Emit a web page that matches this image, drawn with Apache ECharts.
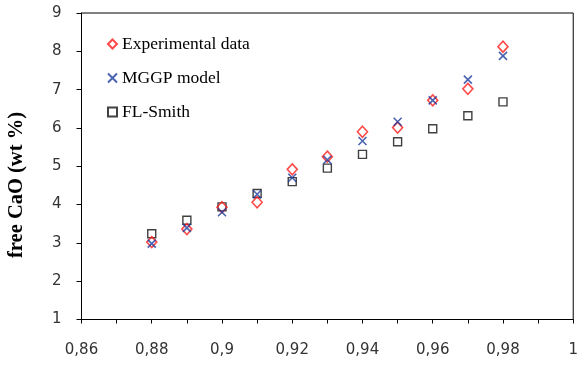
<!DOCTYPE html>
<html>
<head>
<meta charset="utf-8">
<script src="https://cdn.jsdelivr.net/npm/echarts@6/dist/echarts.min.js"></script>
<style>html,body{margin:0;padding:0;background:#fff}#c{width:581px;height:368px}</style>
</head>
<body>
<div id="c"></div>
<script>
var xValues = [0.88, 0.89, 0.90, 0.91, 0.92, 0.93, 0.94, 0.95, 0.96, 0.97, 0.98];
var experimental = [3.02, 3.36, 3.93, 4.06, 4.92, 5.25, 5.90, 6.01, 6.72, 7.02, 8.12];
var mggp = [2.98, 3.39, 3.80, 4.27, 4.70, 5.17, 5.66, 6.16, 6.72, 7.26, 7.88];
var flSmith = [3.24, 3.59, 3.94, 4.29, 4.60, 4.95, 5.31, 5.64, 5.98, 6.32, 6.68];
var seriesNames = ['Experimental data', 'MGGP model', 'FL-Smith'];
var yTitle = 'free CaO (wt %)';

function pairs(ys) { return xValues.map(function (x, i) { return [x, ys[i]]; }); }

var chart = echarts.init(document.getElementById('c'), null, {renderer: 'canvas'});
var axisFont = {fontFamily: 'DejaVu Sans', fontSize: 15, color: '#333'};
chart.setOption({
  animation: false,
  backgroundColor: '#fff',
  grid: {left: 81.5, right: 2.5, top: 13, bottom: 48.5, show: true, borderColor: '#000', borderWidth: 1},
  graphic: [{
    type: 'text', x: 17, y: 185, rotation: Math.PI / 2,
    style: {text: yTitle, fontFamily: 'Liberation Serif', fontSize: 20.5, fontWeight: 'bold', fill: '#000', align: 'center', verticalAlign: 'middle'}
  }],
  legend: {
    orient: 'vertical', left: 102, top: 30, itemGap: 16, itemWidth: 9, itemHeight: 9,
    textStyle: {fontFamily: 'Liberation Serif', fontSize: 17.5, color: '#000'},
    data: seriesNames
  },
  xAxis: {
    type: 'value', min: 0.86, max: 1, interval: 0.02,
    axisLine: {show: true, onZero: false, lineStyle: {color: '#000'}},
    axisTick: {show: true, length: 4, lineStyle: {color: '#000'}},
    minorTick: {show: true, splitNumber: 2, length: 4, lineStyle: {color: '#000'}},
    splitLine: {show: false},
    axisLabel: Object.assign({margin: 23, formatter: function (v) { return String(+v.toFixed(2)).replace('.', ','); }}, axisFont)
  },
  yAxis: {
    type: 'value', min: 1, max: 9, interval: 1,
    axisLine: {show: true, lineStyle: {color: '#000'}},
    axisTick: {show: true, length: 5, lineStyle: {color: '#000'}},
    splitLine: {show: false},
    axisLabel: Object.assign({margin: 20}, axisFont)
  },
  series: [
    {
      name: seriesNames[0], type: 'scatter', data: pairs(experimental), z: 3,
      symbol: 'diamond', symbolSize: [10, 11],
      itemStyle: {color: 'rgba(255,255,255,0)', borderColor: '#ff1a1a', borderWidth: 1.6}
    },
    {
      name: seriesNames[1], type: 'scatter', data: pairs(mggp), z: 4,
      symbol: 'path://M0,0L10,10M10,0L0,10', symbolSize: 8,
      itemStyle: {color: 'rgba(0,0,0,0)', borderColor: '#1c3c9c', borderWidth: 1.6}
    },
    {
      name: seriesNames[2], type: 'scatter', data: pairs(flSmith), z: 2,
      symbol: 'rect', symbolSize: 8,
      itemStyle: {color: 'rgba(255,255,255,0)', borderColor: '#111', borderWidth: 1.4}
    }
  ]
});
</script>
</body>
</html>
